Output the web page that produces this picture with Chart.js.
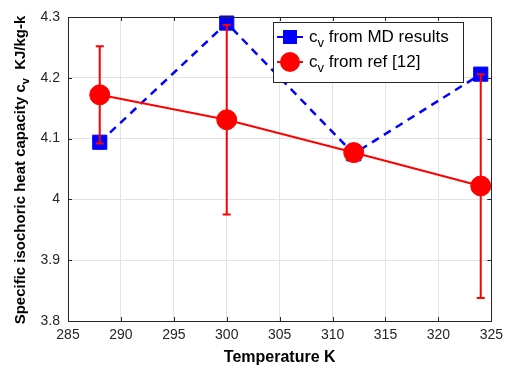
<!DOCTYPE html>
<html>
<head>
<meta charset="utf-8">
<script src="https://cdn.jsdelivr.net/npm/chart.js@4"></script>
<style>
    html, body { margin: 0; padding: 0; background: #fff; }
    #chartBox { width: 509px; height: 368px; }
</style>
</head>
<body>
<div id="chartBox"><canvas id="cvChart" width="509" height="368"></canvas></div>
<script>
// temperatures (K) and heat capacity values
const temps = [288, 300, 312, 324];
const cvMD = [4.094, 4.29, 4.075, 4.206];
const cvRef = [4.172, 4.131, 4.077, 4.022];
const refErr = [0.08, 0.156, 0.005, 0.184];
const xTicks = [285, 290, 295, 300, 305, 310, 315, 320, 325];
const yTicks = [3.8, 3.9, 4.0, 4.1, 4.2, 4.3];

const FONT = '"Liberation Sans", Arial, sans-serif';
const AXIS_COLOR = '#262626';

// frame, inward ticks, error bars, legend and axis titles (MATLAB look)
const matlabPlugin = {
    id: 'matlabLook',
    beforeDatasetDraw(chart, args) {
        if (args.index !== 0) return;
        const ctx = chart.ctx;
        const xs = chart.scales.x, ys = chart.scales.y;
        ctx.save();
        ctx.strokeStyle = '#ff0000';
        ctx.lineWidth = 2;
        temps.forEach((t, i) => {
            const px = xs.getPixelForValue(t);
            const top = ys.getPixelForValue(cvRef[i] + refErr[i]);
            const bot = ys.getPixelForValue(cvRef[i] - refErr[i]);
            ctx.beginPath();
            ctx.moveTo(px, top); ctx.lineTo(px, bot);
            ctx.moveTo(px - 4, top); ctx.lineTo(px + 4, top);
            ctx.moveTo(px - 4, bot); ctx.lineTo(px + 4, bot);
            ctx.stroke();
        });
        ctx.restore();
    },
    afterDraw(chart) {
        const ctx = chart.ctx;
        const a = chart.chartArea;
        const xs = chart.scales.x, ys = chart.scales.y;
        ctx.save();

        // box
        ctx.strokeStyle = AXIS_COLOR;
        ctx.lineWidth = 1;
        ctx.strokeRect(Math.round(a.left) + 0.5, Math.round(a.top) + 0.5,
            Math.round(a.right - a.left), Math.round(a.bottom - a.top));

        // inward ticks
        ctx.beginPath();
        xTicks.forEach(v => {
            const px = Math.round(xs.getPixelForValue(v)) + 0.5;
            ctx.moveTo(px, a.bottom); ctx.lineTo(px, a.bottom - 4);
            ctx.moveTo(px, a.top); ctx.lineTo(px, a.top + 4);
        });
        yTicks.forEach(v => {
            const py = Math.round(ys.getPixelForValue(v)) + 0.5;
            ctx.moveTo(a.left, py); ctx.lineTo(a.left + 4, py);
            ctx.moveTo(a.right, py); ctx.lineTo(a.right - 4, py);
        });
        ctx.stroke();

        // legend
        const lx = 273.5, ly = 22.5, lw = 190, lh = 60;
        ctx.fillStyle = '#fff';
        ctx.fillRect(lx, ly, lw, lh);
        ctx.strokeStyle = AXIS_COLOR;
        ctx.strokeRect(lx, ly, lw, lh);

        const rows = [
            { y: 37, color: '#0000ff', shape: 'rect', text: ' from MD results' },
            { y: 62, color: '#ff0000', shape: 'circle', text: ' from ref [12]' }
        ];
        rows.forEach(r => {
            ctx.strokeStyle = r.color;
            ctx.fillStyle = r.color;
            ctx.lineWidth = 2;
            ctx.beginPath();
            ctx.moveTo(277, r.y); ctx.lineTo(303, r.y);
            ctx.stroke();
            if (r.shape === 'rect') {
                ctx.fillRect(283, r.y - 7, 14, 14);
            } else {
                ctx.beginPath();
                ctx.arc(290, r.y, 10, 0, Math.PI * 2);
                ctx.fill();
            }
            ctx.fillStyle = '#000';
            ctx.textBaseline = 'alphabetic';
            ctx.textAlign = 'left';
            ctx.font = '17px ' + FONT;
            let x = 309;
            ctx.fillText('c', x, r.y + 5);
            x += ctx.measureText('c').width;
            ctx.font = '13px ' + FONT;
            ctx.fillText('v', x, r.y + 10);
            x += ctx.measureText('v').width;
            ctx.font = '17px ' + FONT;
            ctx.fillText(r.text, x, r.y + 5);
        });

        // x title
        ctx.fillStyle = '#000';
        ctx.font = 'bold 16px ' + FONT;
        ctx.textAlign = 'center';
        ctx.fillText('Temperature K', (a.left + a.right) / 2, 362);

        // y title with subscript
        ctx.translate(25, 170);
        ctx.rotate(-Math.PI / 2);
        const part1 = 'Specific isochoric heat capacity c';
        const part2 = 'v';
        const part3 = '  KJ/kg-k';
        ctx.font = 'bold 15px ' + FONT;
        const w1 = ctx.measureText(part1).width;
        const w3 = ctx.measureText(part3).width;
        ctx.font = 'bold 11px ' + FONT;
        const w2 = ctx.measureText(part2).width;
        let x = -(w1 + w2 + w3) / 2;
        ctx.textAlign = 'left';
        ctx.font = 'bold 15px ' + FONT;
        ctx.fillText(part1, x, 0);
        x += w1;
        ctx.font = 'bold 11px ' + FONT;
        ctx.fillText(part2, x, 4);
        x += w2;
        ctx.font = 'bold 15px ' + FONT;
        ctx.fillText(part3, x, 0);

        ctx.restore();
    }
};

const ctx = document.getElementById('cvChart').getContext('2d');
new Chart(ctx, {
    type: 'scatter',
    data: {
        datasets: [
            {
                label: 'cv from ref [12]',
                data: temps.map((t, i) => ({ x: t, y: cvRef[i] })),
                showLine: true,
                borderColor: '#ff0000',
                borderWidth: 2,
                backgroundColor: '#ff0000',
                pointStyle: 'circle',
                pointRadius: 10,
                pointBorderWidth: 1,
                order: 1,
                clip: false
            },
            {
                label: 'cv from MD results',
                data: temps.map((t, i) => ({ x: t, y: cvMD[i] })),
                showLine: true,
                borderColor: '#0000ff',
                borderWidth: 2.5,
                borderDash: [8, 6],
                backgroundColor: '#0000ff',
                pointStyle: 'rect',
                pointRadius: 10,
                pointBorderWidth: 1,
                order: 2,
                clip: false
            }
        ]
    },
    options: {
        responsive: false,
        animation: false,
        devicePixelRatio: 1,
        layout: { padding: { top: 17, right: 12, left: 0, bottom: 0 } },
        plugins: {
            legend: { display: false },
            tooltip: { enabled: false }
        },
        scales: {
            x: {
                type: 'linear',
                min: 285,
                max: 325,
                afterBuildTicks: scale => { scale.ticks = xTicks.map(v => ({ value: v })); },
                afterFit: scale => { scale.height = 47; },
                ticks: {
                    color: AXIS_COLOR,
                    font: { family: FONT, size: 14 },
                    padding: 6,
                    maxRotation: 0,
                    callback: v => String(v)
                },
                grid: { color: '#e3e3e3', drawTicks: false },
                border: { display: false }
            },
            y: {
                type: 'linear',
                min: 3.8,
                max: 4.3,
                afterBuildTicks: scale => { scale.ticks = yTicks.map(v => ({ value: v })); },
                afterFit: scale => { scale.width = 68; },
                ticks: {
                    color: AXIS_COLOR,
                    font: { family: FONT, size: 14 },
                    padding: 8,
                    callback: v => String(Math.round(v * 10) / 10)
                },
                grid: { color: '#e3e3e3', drawTicks: false },
                border: { display: false }
            }
        }
    },
    plugins: [matlabPlugin]
});
</script>
</body>
</html>
